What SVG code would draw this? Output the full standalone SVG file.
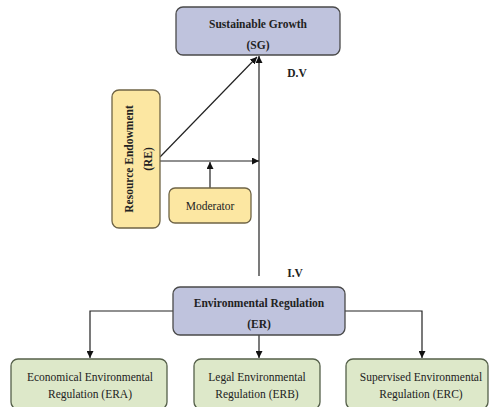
<svg xmlns="http://www.w3.org/2000/svg" width="490" height="407" viewBox="0 0 490 407">
  <style>
    text { font-family: 'Liberation Serif', 'DejaVu Serif', serif; fill: #222; text-anchor: middle; }
    .b { font-weight: bold; font-size: 11.5px; }
    .r { font-size: 11.5px; }
    .blue { fill: #bfc3dd; stroke: #4a4a4a; stroke-width: 1.3; }
    .yel { fill: #fce7a2; stroke: #6f6446; stroke-width: 1.3; }
    .grn { fill: #dde8c9; stroke: #55604a; stroke-width: 1.3; }
    .ln { fill: none; stroke: #222; stroke-width: 1.2; }
  </style>
  <defs>
    <marker id="ah" viewBox="0 0 10 10" refX="10" refY="5" markerWidth="7" markerHeight="7" orient="auto" markerUnits="userSpaceOnUse">
      <path d="M0,0 L10,5 L0,10 z" fill="#111"/>
    </marker>
  </defs>

  <rect width="490" height="407" fill="#ffffff"/>

  <g id="connectors">
    <!-- ER up to SG -->
    <line class="ln" x1="259" y1="276" x2="259" y2="56" marker-end="url(#ah)"/>
    <!-- RE diagonal to SG -->
    <line class="ln" x1="160" y1="157" x2="257" y2="57" marker-end="url(#ah)"/>
    <!-- RE horizontal to main path -->
    <line class="ln" x1="160" y1="161" x2="259" y2="161" marker-end="url(#ah)"/>
    <!-- Moderator up -->
    <line class="ln" x1="210" y1="188" x2="210" y2="162" marker-end="url(#ah)"/>
    <!-- ER to sub-regulations -->
    <polyline class="ln" points="173,311 90,311 90,358" marker-end="url(#ah)"/>
    <line class="ln" x1="259" y1="335" x2="259" y2="358" marker-end="url(#ah)"/>
    <polyline class="ln" points="345,311 422,311 422,358" marker-end="url(#ah)"/>
  </g>

  <g id="sg">
    <rect class="blue" x="176" y="7" width="164" height="48" rx="7"/>
    <text class="b" x="258" y="28">Sustainable Growth</text>
    <text class="b" x="258" y="49">(SG)</text>
  </g>

  <text class="b" x="297" y="77">D.V</text>
  <text class="b" x="295" y="277">I.V</text>

  <g id="re">
    <rect class="yel" x="112" y="90" width="48" height="138" rx="7"/>
    <text class="b" transform="translate(133,159) rotate(-90)">Resource Endowment</text>
    <text class="b" transform="translate(152,159) rotate(-90)">(RE)</text>
  </g>

  <g id="moderator">
    <rect class="yel" x="169" y="188" width="82" height="35" rx="6"/>
    <text class="r" x="210" y="210">Moderator</text>
  </g>

  <g id="er">
    <rect class="blue" x="173" y="287" width="172" height="48" rx="7"/>
    <text class="b" x="259" y="307">Environmental Regulation</text>
    <text class="b" x="259" y="328">(ER)</text>
  </g>

  <g id="era">
    <rect class="grn" x="11" y="359" width="156" height="50" rx="7"/>
    <text class="r" x="90" y="381">Economical Environmental</text>
    <text class="r" x="90" y="398">Regulation (ERA)</text>
  </g>

  <g id="erb">
    <rect class="grn" x="194" y="359" width="126" height="50" rx="7"/>
    <text class="r" x="257" y="381">Legal Environmental</text>
    <text class="r" x="257" y="398">Regulation (ERB)</text>
  </g>

  <g id="erc">
    <rect class="grn" x="346" y="359" width="142" height="50" rx="7"/>
    <text class="r" x="421" y="381">Supervised Environmental</text>
    <text class="r" x="421" y="398">Regulation (ERC)</text>
  </g>
</svg>
